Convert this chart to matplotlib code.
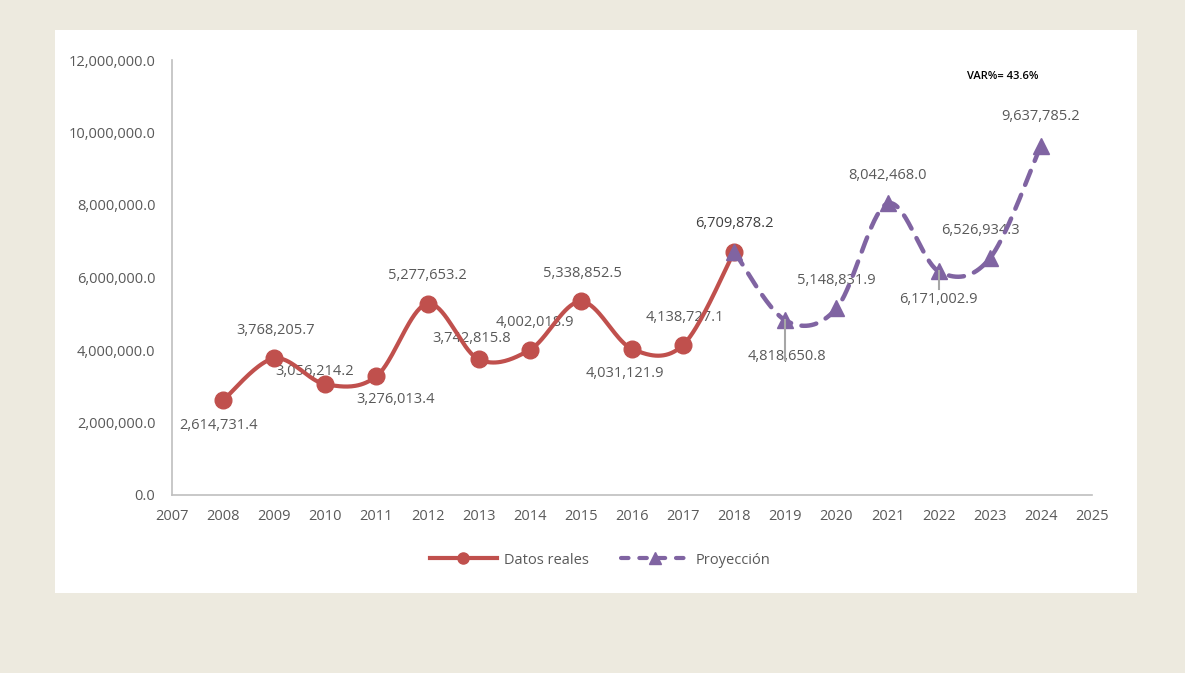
import numpy as np
import matplotlib
matplotlib.use("Agg")
import matplotlib.pyplot as plt

years_real = [2008, 2009, 2010, 2011, 2012, 2013, 2014, 2015, 2016, 2017, 2018]
values_real = [2614731.4, 3768205.7, 3056214.2, 3276013.4, 5277653.2, 3742815.8,
               4002018.9, 5338852.5, 4031121.9, 4138727.1, 6709878.2]
years_proj = [2018, 2019, 2020, 2021, 2022, 2023, 2024]
values_proj = [6709878.2, 4818650.8, 5148831.9, 8042468.0, 6171002.9, 6526934.3, 9637785.2]
annotation = "VAR%= 43.6%"
series_names = ["Datos reales", "Proyección"]

RED = "#C0504D"
PURPLE = "#8064A2"
GRAY = "#595959"
BEIGE = "#EDEADF"

plt.rcParams['font.family'] = ['Open Sans', 'DejaVu Sans']


def smooth(x, y, n=40):
    # Catmull-Rom (Excel-like smoothed line)
    x = np.asarray(x, float)
    y = np.asarray(y, float)
    px = np.concatenate([[x[0]], x, [x[-1]]])
    py = np.concatenate([[y[0]], y, [y[-1]]])
    xs, ys = [], []
    for i in range(1, len(px) - 2):
        p0 = np.array([px[i - 1], py[i - 1]])
        p1 = np.array([px[i], py[i]])
        p2 = np.array([px[i + 1], py[i + 1]])
        p3 = np.array([px[i + 2], py[i + 2]])
        c1 = p1 + (p2 - p0) / 6.0
        c2 = p2 - (p3 - p1) / 6.0
        t = np.linspace(0, 1, n)[:, None]
        b = ((1 - t) ** 3) * p1 + 3 * ((1 - t) ** 2) * t * c1 + 3 * (1 - t) * t ** 2 * c2 + t ** 3 * p2
        xs.extend(b[:, 0])
        ys.extend(b[:, 1])
    return np.array(xs), np.array(ys)


fig = plt.figure(figsize=(11.85, 6.73), dpi=100)
fig.patch.set_facecolor(BEIGE)
# white panel
bg = fig.add_axes([55 / 1185, 1 - 593 / 673, (1137 - 55) / 1185, (593 - 30) / 673])
bg.set_facecolor("white")
bg.set_xticks([])
bg.set_yticks([])
for s in bg.spines.values():
    s.set_visible(False)
bg.set_zorder(0)

ax = fig.add_axes([172 / 1185, 1 - 495 / 673, (1092 - 172) / 1185, (495 - 60) / 673])
ax.set_zorder(1)
ax.set_facecolor("none")
ax.set_xlim(2007, 2025)
ax.set_ylim(0, 12000000)
ax.set_xticks(range(2007, 2026))
ax.set_yticks(np.arange(0, 12000001, 2000000))
ax.yaxis.set_major_formatter(matplotlib.ticker.FuncFormatter(lambda v, p: f"{v:,.1f}"))
for s in ["top", "right"]:
    ax.spines[s].set_visible(False)
for s in ["left", "bottom"]:
    ax.spines[s].set_color("#BFBFBF")
    ax.spines[s].set_linewidth(1.2)
ax.tick_params(length=0, colors=GRAY, labelsize=10.5)
ax.tick_params(axis="x", pad=10)
ax.tick_params(axis="y", pad=12)

# projection
sx, sy = smooth(years_proj, values_proj)
ax.plot(sx, sy, color=PURPLE, lw=3.2, ls=(0, (3.4, 2.4)), dash_capstyle="round", zorder=2)
ax.plot(years_proj, values_proj, ls="none", marker="^", ms=12, color=PURPLE, zorder=4)

# real
rx, ry = smooth(years_real, values_real)
ax.plot(rx, ry, color=RED, lw=3, solid_capstyle="round", zorder=3)
ax.plot(years_real, values_real, ls="none", marker="o", ms=12, color=RED, zorder=3)

# legend proxies
h1, = ax.plot([], [], color=RED, lw=3, marker="o", ms=8)
h2, = ax.plot([], [], color=PURPLE, lw=3, ls=(0, (1.8, 2.6)), marker="^", ms=8, dash_capstyle="round")
fig.legend([h1, h2], series_names, loc="center", bbox_to_anchor=(600 / 1185, 1 - 560 / 673),
           ncol=2, frameon=False, fontsize=10.5, labelcolor=GRAY, handlelength=4.6,
           handletextpad=0.5, columnspacing=2.2)

# labels: offsets in points (dx, dy)
real_off = [(-3, -18), (1, 20), (-8, 9), (14, -17), (0, 20), (-5, 15), (4, 20),
            (1, 20), (-5, -18), (1, 20), (0, 20)]
for i, (x, v, (dx, dy)) in enumerate(zip(years_real, values_real, real_off)):
    ax.annotate(f"{v:,.1f}", (x, v), xytext=(dx, dy), textcoords="offset points",
                ha="center", va="center", fontsize=10.5,
                color="#404040" if i == len(years_real) - 1 else GRAY, zorder=1)

proj_off = [(0, 20), (1, -26), (0, 20), (0, 20), (0, -20), (-7, 20), (0, 21)]
for i, (x, v, (dx, dy)) in enumerate(zip(years_proj, values_proj, proj_off)):
    if i == 0:
        continue
    ax.annotate(f"{v:,.1f}", (x, v), xytext=(dx, dy), textcoords="offset points",
                ha="center", va="center", fontsize=10.5, color=GRAY, zorder=1)
    if i in (1, 4):
        ax.plot([x, x], [v, v - (1.1e6 if i == 1 else 0.5e6)], color="#A6A6A6", lw=1.5, zorder=5)

ax.text(2023.25, 11550000, annotation, fontsize=8, color="black", ha="center", va="center",
        fontweight="semibold")

fig.savefig("out.png", dpi=100, facecolor=fig.get_facecolor())
